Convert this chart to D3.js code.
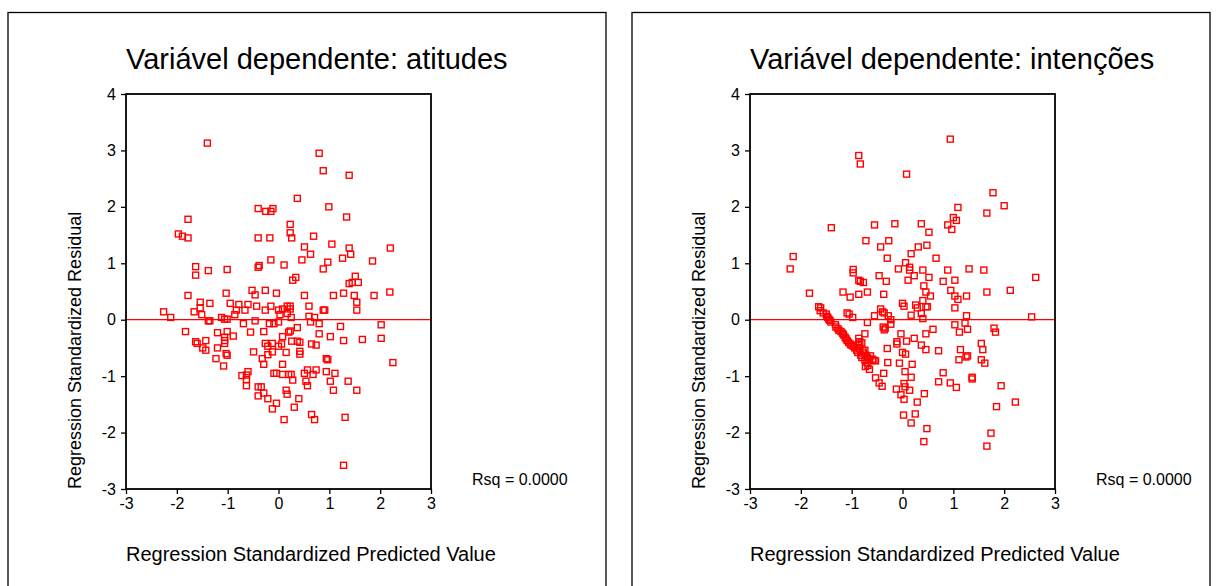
<!DOCTYPE html>
<html>
<head>
<meta charset="utf-8">
<script src="https://cdn.jsdelivr.net/npm/d3@7"></script>
<style>
  body { margin: 0; background: #fff; }
  svg { display: block; font-family: Arial, "Liberation Sans", sans-serif; }
</style>
</head>
<body>
<div id="chart"></div>
<script>
// axis ticks
const xTicks = [-3, -2, -1, 0, 1, 2, 3];
const yTicks = [-3, -2, -1, 0, 1, 2, 3, 4];

const titles = ["Variável dependente: atitudes", "Variável dependente: intenções"];
const xTitle = "Regression Standardized Predicted Value";
const yTitle = "Regression Standardized Residual";
const rsqText = "Rsq = 0.0000";

// [predicted, residual]
const atitudesPoints = [
  [-1.40, 3.13], [-1.78, 1.78], [-1.97, 1.52], [-1.89, 1.48], [-1.78, 1.45], [-0.40, 1.97],
  [-0.25, 1.92], [-0.15, 1.92], [-0.11, 1.97], [-0.40, 1.45], [-0.17, 1.45], [-0.15, 1.06],
  [-1.63, 0.94], [-1.63, 0.79], [-1.38, 0.87], [-1.01, 0.89], [-0.40, 0.93], [-0.38, 0.96],
  [0.80, 2.95], [0.88, 2.64], [1.39, 2.56], [0.37, 2.15], [0.99, 2.00], [1.34, 1.82],
  [0.23, 1.69], [0.23, 1.54], [0.26, 1.45], [0.69, 1.48], [0.51, 1.29], [1.05, 1.34],
  [0.63, 1.16], [1.39, 1.27], [1.42, 1.16], [2.20, 1.27], [0.11, 0.97], [0.46, 1.06],
  [0.97, 1.02], [0.88, 0.90], [1.26, 1.09], [1.85, 1.04], [0.34, 0.75], [0.28, 0.70],
  [1.51, 0.77], [1.45, 0.66], [1.57, 0.66], [1.39, 0.64],
  [-1.78, 0.43], [-2.26, 0.14], [-2.12, 0.04], [-1.54, 0.31], [-1.54, 0.21], [-1.66, 0.14],
  [-1.51, 0.09], [-1.35, 0.29], [-1.03, 0.47], [-0.95, 0.29], [-0.78, 0.27], [-0.60, 0.27],
  [-0.52, 0.52], [-0.46, 0.44], [-0.26, 0.52], [-0.04, 0.47], [-0.83, 0.17], [-0.66, 0.17],
  [-0.86, 0.09], [-0.43, 0.24], [-0.26, 0.17], [-0.15, 0.24], [0.00, 0.17], [-1.12, 0.04],
  [-1.06, 0.01], [-1.01, 0.01], [-1.38, -0.02], [-1.35, -0.02], [-1.83, -0.21], [-1.63, -0.39],
  [-1.60, -0.42], [-1.43, -0.37], [-1.49, -0.50], [-1.43, -0.54], [-1.20, -0.23], [-1.01, -0.21],
  [-0.89, -0.29], [-1.06, -0.31], [-1.06, -0.37], [-1.06, -0.42], [-1.20, -0.50], [-1.03, -0.60],
  [-1.01, -0.63], [-1.23, -0.69], [-1.08, -0.82], [-0.69, -0.07], [-0.46, -0.02], [-0.55, -0.22],
  [-0.18, -0.07], [-0.09, -0.07], [0.00, -0.04], [-0.29, -0.21], [-0.26, -0.42], [-0.12, -0.42],
  [-0.21, -0.47], [-0.49, -0.57], [-0.12, -0.57], [-0.21, -0.62], [-0.32, -0.69], [-0.29, -0.79],
  [-0.60, -0.92], [-0.63, -0.98], [-0.72, -0.99], [-0.63, -1.06], [-0.63, -1.17], [-0.40, -1.19],
  [-0.34, -1.19], [-0.40, -1.35], [-0.29, -1.30], [-0.21, -1.40], [-0.12, -1.58], [-0.04, -1.48],
  [-0.09, -0.95], [-0.04, -0.95], [0.00, -0.47],
  [0.51, 0.43], [1.08, 0.43], [1.28, 0.47], [1.49, 0.43], [1.54, 0.31], [1.88, 0.43],
  [2.19, 0.49], [0.08, 0.19], [0.17, 0.24], [0.23, 0.24], [0.23, 0.19], [0.17, 0.11],
  [0.03, 0.09], [0.25, 0.04], [0.60, 0.24], [0.60, 0.06], [0.71, 0.04], [0.88, 0.17],
  [0.91, 0.17], [1.54, 0.17], [0.63, -0.04], [0.80, -0.07], [0.37, -0.14], [0.20, -0.22],
  [0.23, -0.20], [1.22, -0.12], [2.02, -0.09], [0.80, -0.25], [1.02, -0.30], [0.08, -0.30],
  [1.28, -0.37], [1.65, -0.35], [2.02, -0.33], [0.06, -0.43], [0.26, -0.38], [0.37, -0.38],
  [0.42, -0.40], [0.65, -0.43], [0.74, -0.45], [0.15, -0.58], [0.42, -0.56], [0.42, -0.61],
  [0.94, -0.69], [0.97, -0.71], [2.25, -0.76], [0.08, -0.79], [0.08, -0.97], [0.20, -0.97],
  [0.25, -0.97], [0.28, -1.07], [0.51, -0.95], [0.57, -0.89], [0.68, -0.97], [0.74, -0.89],
  [0.94, -0.92], [1.11, -0.95], [0.54, -1.09], [0.57, -1.17], [1.02, -1.09], [1.08, -1.25],
  [1.37, -1.09], [1.54, -1.25], [0.15, -1.25], [0.17, -1.32], [0.40, -1.40], [0.31, -1.55],
  [0.11, -1.77], [0.65, -1.68], [0.71, -1.77], [1.31, -1.73], [1.28, -2.58]
];

const intencoesPoints = [
  [-0.86, 2.91], [-0.83, 2.76], [-1.40, 1.63], [-0.55, 1.68], [-0.72, 1.40], [-0.43, 1.29],
  [-0.27, 1.40], [-0.30, 1.09], [-2.15, 1.12], [-2.21, 0.90], [-0.97, 0.89], [-0.97, 0.83],
  [-0.46, 0.78], [-0.32, 0.68], [-0.86, 0.70], [-0.83, 0.68], [-0.77, 0.66],
  [0.94, 3.20], [0.08, 2.58], [1.78, 2.25], [2.00, 2.02], [1.66, 1.89], [1.09, 1.99],
  [1.00, 1.81], [1.06, 1.76], [0.89, 1.68], [0.97, 1.60], [-0.15, 1.70], [0.37, 1.70],
  [0.52, 1.55], [0.31, 1.29], [0.48, 1.32], [0.17, 1.17], [0.66, 1.09], [0.06, 1.01],
  [0.14, 0.93], [0.14, 0.88], [-0.08, 0.90], [0.40, 0.88], [0.52, 0.75], [0.23, 0.78],
  [0.11, 0.70], [0.89, 0.88], [1.31, 0.90], [1.60, 0.88], [0.80, 0.68], [1.03, 0.70],
  [0.42, 0.60], [2.62, 0.75],
  [-1.83, 0.47], [-1.17, 0.49], [-1.03, 0.40], [-0.86, 0.45], [-0.69, 0.49], [-0.37, 0.45],
  [-1.65, 0.23], [-1.61, 0.21], [-1.62, 0.16], [-1.56, 0.12], [-1.50, 0.10], [-1.49, 0.06],
  [-1.47, 0.04], [-1.45, 0.01], [-1.43, -0.01], [-1.41, -0.04], [-1.32, -0.09], [-1.31, -0.13],
  [-1.27, -0.16], [-1.25, -0.19], [-1.21, -0.21], [-1.18, -0.24], [-1.16, -0.27], [-1.13, -0.31],
  [-1.11, -0.34], [-1.09, -0.37], [-1.06, -0.40], [-1.03, -0.43], [-1.01, -0.45], [-0.97, -0.47],
  [-0.94, -0.50], [-0.86, -0.33], [-0.84, -0.39], [-0.80, -0.41], [-0.87, -0.45], [-0.90, -0.54],
  [-0.84, -0.51], [-0.78, -0.55], [-0.74, -0.54], [-0.88, -0.58], [-0.82, -0.63], [-0.77, -0.59],
  [-0.72, -0.63], [-0.80, -0.67], [-0.69, -0.67], [-0.66, -0.70], [-0.63, -0.64], [-0.59, -0.70],
  [-0.56, -0.72], [-0.53, -0.73], [-0.74, -0.71], [-0.70, -0.76], [-0.68, -0.81], [-0.65, -0.88],
  [-0.73, -0.83], [-0.53, -1.03], [-0.46, -1.12], [-0.40, -1.18], [-0.37, -0.95], [-0.74, -0.25],
  [-0.69, -0.05], [-0.55, 0.07], [-0.43, 0.19], [-0.39, 0.14], [-0.36, 0.12], [-1.09, 0.12],
  [-1.05, 0.10], [-0.98, 0.04], [-0.38, -0.13], [-0.34, -0.15], [-0.36, -0.18], [-0.30, -0.51],
  [-0.29, -0.76],
  [0.46, 0.49], [0.55, 0.42], [0.95, 0.52], [1.03, 0.42], [1.09, 0.36], [1.26, 0.42],
  [1.66, 0.49], [2.12, 0.52], [0.00, 0.29], [0.03, 0.24], [0.26, 0.26], [0.29, 0.21],
  [0.40, 0.34], [0.46, 0.23], [0.49, 0.23], [0.37, 0.11], [0.17, 0.08], [0.40, 0.02],
  [-0.28, 0.07], [-0.23, 0.00], [-0.23, -0.08], [1.03, 0.21], [1.26, 0.07], [2.54, 0.05],
  [1.03, -0.09], [1.23, -0.06], [1.12, -0.22], [1.28, -0.17], [1.80, -0.15], [1.83, -0.22],
  [-0.03, -0.25], [0.46, -0.25], [0.60, -0.17], [0.23, -0.33], [0.08, -0.38], [-0.11, -0.39],
  [-0.11, -0.43], [0.37, -0.45], [0.46, -0.53], [0.71, -0.55], [0.00, -0.58], [0.06, -0.61],
  [1.14, -0.53], [1.55, -0.42], [1.58, -0.53], [1.28, -0.64], [1.25, -0.66], [1.11, -0.71],
  [1.55, -0.71], [1.62, -0.77], [-0.06, -0.77], [0.19, -0.79], [0.05, -0.92], [0.17, -1.02],
  [0.80, -0.94], [0.71, -1.10], [0.94, -1.12], [1.06, -1.20], [1.37, -1.02], [1.37, -1.05],
  [1.94, -1.17], [-0.12, -1.23], [0.03, -1.13], [0.05, -1.19], [0.14, -1.25], [-0.03, -1.33],
  [0.03, -1.41], [0.43, -1.31], [0.29, -1.46], [1.85, -1.54], [2.22, -1.46], [0.02, -1.69],
  [0.25, -1.67], [0.17, -1.83], [0.48, -1.93], [0.42, -2.16], [1.74, -2.01], [1.66, -2.24]
];

const width = 1218;
const height = 586;

const svg = d3
  .select("#chart")
  .append("svg")
  .attr("width", width)
  .attr("height", height);

svg.append("rect").attr("width", width).attr("height", height).attr("fill", "#fff");

// panel geometry
const plot = { left: 118, top: 81.5, w: 305, h: 395 };

function drawPanel(px, panelWidth, title, points) {
  const g = svg.append("g").attr("transform", `translate(${px}, 12.5)`);

  // outer border (bottom runs off the picture)
  g.append("rect")
    .attr("x", 0)
    .attr("y", 0)
    .attr("width", panelWidth)
    .attr("height", 620)
    .attr("fill", "none")
    .attr("stroke", "#000")
    .attr("stroke-width", 1.3);

  // titles are left-justified on the plot's left edge
  g.append("text")
    .attr("x", plot.left)
    .attr("y", 56)
    .style("font-size", "29px")
    .text(title);

  const xScale = d3.scaleLinear().domain([-3, 3]).range([0, plot.w]);
  const yScale = d3.scaleLinear().domain([-3, 4]).range([plot.h, 0]);

  const area = g.append("g").attr("transform", `translate(${plot.left}, ${plot.top})`);

  // zero residual line
  area
    .append("line")
    .attr("x1", 0)
    .attr("x2", plot.w)
    .attr("y1", yScale(0))
    .attr("y2", yScale(0))
    .attr("stroke", "#ff0000")
    .attr("stroke-width", 1.2);

  area
    .append("g")
    .selectAll("rect")
    .data(points)
    .join("rect")
    .attr("x", (d) => xScale(d[0]) - 3)
    .attr("y", (d) => yScale(d[1]) - 3)
    .attr("width", 6)
    .attr("height", 6)
    .attr("fill", "none")
    .attr("stroke", "#ff0000")
    .attr("stroke-width", 1.4);

  // frame
  area
    .append("rect")
    .attr("width", plot.w)
    .attr("height", plot.h)
    .attr("fill", "none")
    .attr("stroke", "#000")
    .attr("stroke-width", 1.8);

  const fmt = (d) => String(d); // plain hyphen, no decimals
  const xAxis = area
    .append("g")
    .attr("transform", `translate(0, ${plot.h})`)
    .call(d3.axisBottom(xScale).tickValues(xTicks).tickFormat(fmt).tickSize(5).tickPadding(4).tickSizeOuter(0));
  const yAxis = area
    .append("g")
    .call(d3.axisLeft(yScale).tickValues(yTicks).tickFormat(fmt).tickSize(5).tickPadding(5).tickSizeOuter(0));

  [xAxis, yAxis].forEach((ax) => {
    ax.select(".domain").remove();
    ax.selectAll("line").attr("stroke", "#000").attr("stroke-width", 1.3);
    ax.selectAll("text")
      .attr("fill", "#000")
      .style("font-size", "16px")
      .style("font-family", "Arial, 'Liberation Sans', sans-serif");
  });

  // axis titles, start-aligned on the axis origin
  area
    .append("text")
    .attr("x", 0)
    .attr("y", plot.h + 72)
    .style("font-size", "20px")
    .text(xTitle);

  area
    .append("text")
    .attr("transform", `translate(-45, ${plot.h}) rotate(-90)`)
    .style("font-size", "18px")
    .text(yTitle);

  area
    .append("text")
    .attr("x", plot.w + 41)
    .attr("y", plot.h - 4)
    .style("font-size", "16px")
    .text(rsqText);
}

drawPanel(8, 598, titles[0], atitudesPoints);
drawPanel(632, 578, titles[1], intencoesPoints);
</script>
</body>
</html>
